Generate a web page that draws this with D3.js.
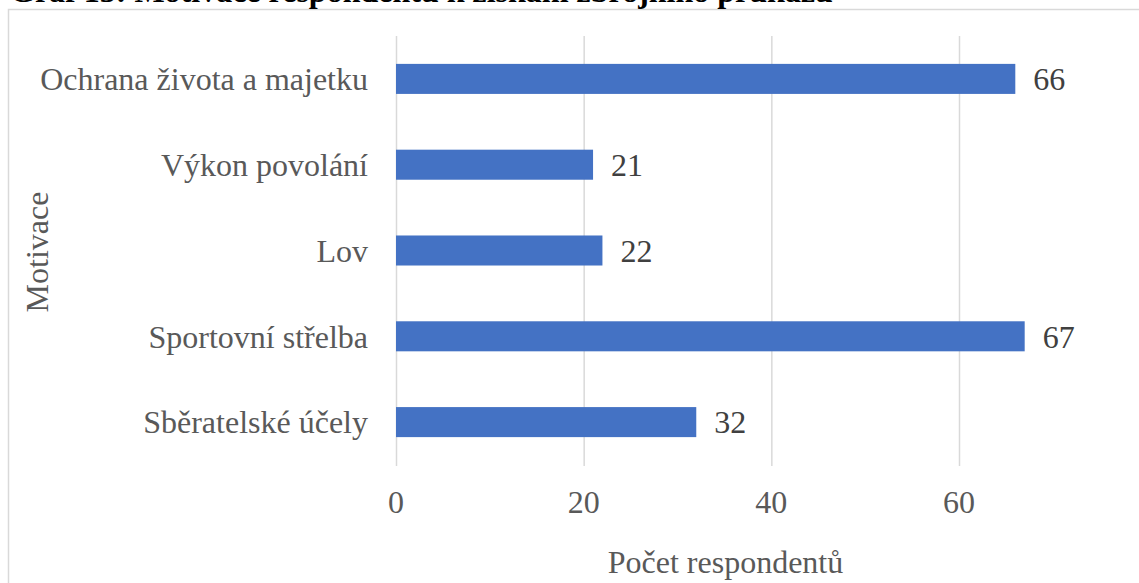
<!DOCTYPE html>
<html><head><meta charset="utf-8">
<script src="https://cdn.jsdelivr.net/npm/d3@7/dist/d3.min.js"></script>
<style>
body{margin:0;background:#fff;}
svg text{font-family:"Liberation Serif","DejaVu Serif","Times New Roman",serif;}
</style></head>
<body>
<svg id="c" width="1139" height="583"></svg>
<script>
const categories = ["Ochrana života a majetku","Výkon povolání","Lov","Sportovní střelba","Sběratelské účely"];
const values = [66,21,22,67,32];
const ticks = [0,20,40,60];
const title = "Graf 13: Motivace respondentů k získání zbrojního průkazu";
const xTitle = "Počet respondentů";
const yTitle = "Motivace";

const FS = 32;
const svg = d3.select("#c");
svg.append("rect").attr("x",8.5).attr("y",9.5).attr("width",1200).attr("height",700)
  .attr("fill","#fff").attr("stroke","#d9d9d9").attr("stroke-width",1.5);
svg.append("text").attr("x",10).attr("y",2).attr("font-size",32).attr("font-weight","bold")
  .attr("fill","#000").text(title);

const x = d3.scaleLinear().domain([0,60]).range([396,959]);
const y = d3.scaleBand().domain(categories).range([36,465]).paddingInner(0.65).paddingOuter(0.325);

const grid = svg.append("g");
grid.selectAll("line").data(ticks).join("line")
  .attr("x1",d=>x(d)+0.5).attr("x2",d=>x(d)+0.5).attr("y1",36).attr("y2",466)
  .attr("stroke","#d9d9d9").attr("stroke-width",1.5);

svg.append("g").selectAll("rect").data(values).join("rect")
  .attr("x",x(0)).attr("y",(d,i)=>y(categories[i]))
  .attr("width",d=>x(d)-x(0)).attr("height",y.bandwidth()).attr("fill","#4472c4");

svg.append("g").selectAll("text").data(values).join("text")
  .attr("x",d=>x(d)+18).attr("y",(d,i)=>y(categories[i])+y.bandwidth()/2)
  .attr("dy","0.35em").attr("font-size",FS).attr("fill","#404040").text(d=>d);

svg.append("g").selectAll("text").data(categories).join("text")
  .attr("x",368).attr("y",d=>y(d)+y.bandwidth()/2).attr("dy","0.35em")
  .attr("text-anchor","end").attr("font-size",FS).attr("fill","#595959").text(d=>d);

svg.append("g").selectAll("text").data(ticks).join("text")
  .attr("x",d=>x(d)).attr("y",502).attr("dy","0.35em").attr("text-anchor","middle")
  .attr("font-size",FS).attr("fill","#595959").text(d=>d);

svg.append("text").attr("x",725.5).attr("y",562).attr("dy","0.35em").attr("text-anchor","middle")
  .attr("font-size",FS).attr("fill","#595959").text(xTitle);

svg.append("text").attr("transform","translate(37,252) rotate(-90)").attr("dy","0.35em")
  .attr("text-anchor","middle").attr("font-size",FS).attr("fill","#595959").text(yTitle);
</script>
</body></html>
